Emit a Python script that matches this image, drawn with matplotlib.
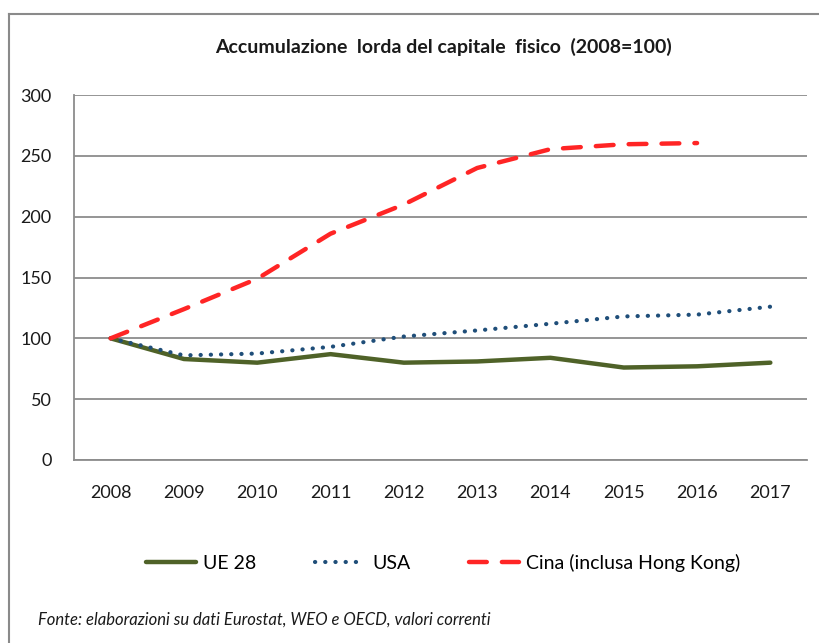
import numpy as np
import matplotlib
matplotlib.use("Agg")
import matplotlib.pyplot as plt
from matplotlib.lines import Line2D

plt.rcParams['font.family'] = ['Lato', 'DejaVu Sans']

# dati
anni = ['2008', '2009', '2010', '2011', '2012', '2013', '2014', '2015', '2016', '2017']
ue28 = [100, 83, 80, 87, 80, 81, 84, 76, 77, 80]
usa = [100, 86, 87.5, 93, 101.5, 106.5, 112, 118, 119.5, 126]
cina = [100, 124, 149, 186, 210, 240, 255.5, 259.5, 260.5, np.nan]

titolo = "Accumulazione  lorda del capitale  fisico  (2008=100)"
fonte = "Fonte: elaborazioni su dati Eurostat, WEO e OECD, valori correnti"

W, H = 819, 643
fig = plt.figure(figsize=(W / 100, H / 100), dpi=100)
ax = fig.add_axes([74 / W, 1 - 460 / H, (807 - 74) / W, (460 - 95) / H])

x = np.arange(len(anni))
ax.plot(x, ue28, color='#4f6228', lw=3.2, solid_capstyle='round', label='UE 28', zorder=3)
ax.plot(x, usa, color='#1f4e79', lw=3.0, linestyle=(0, (0.05, 2.4)),
        dash_capstyle='round', label='USA', zorder=3)
ax.plot(x, cina, color='#ff2525', lw=3.2, linestyle=(0, (4, 3.4)),
        dash_capstyle='round', label='Cina (inclusa Hong Kong)', zorder=3)

ax.set_xlim(-0.5, len(anni) - 0.5)
ax.set_ylim(0, 300)
ax.set_yticks(range(0, 301, 50))
ax.set_xticks(x)
ax.set_xticklabels(anni)
ax.tick_params(length=0, labelsize=13, colors='#1a1a1a')
ax.tick_params(axis='y', pad=16)
ax.tick_params(axis='x', pad=18)

ax.grid(axis='y', color='#8c8c8c', lw=1.3)
ax.set_axisbelow(True)
for s in ['top', 'right']:
    ax.spines[s].set_visible(False)
for s in ['left', 'bottom']:
    ax.spines[s].set_color('#8c8c8c')
    ax.spines[s].set_linewidth(1.3)

fig.text(443 / W, 1 - 47 / H, titolo, ha='center', va='center',
         fontsize=14, fontweight='bold', color='#1a1a1a')

fig.legend(loc='center', bbox_to_anchor=(443 / W, 1 - 563 / H), ncol=3,
           frameon=False, fontsize=14, handlelength=2.6, columnspacing=3.0,
           handletextpad=0.35)

fig.text(38 / W, 1 - 620 / H, fonte, ha='left', va='center',
         fontsize=12, style='italic', color='#1a1a1a')

# cornice esterna (solo lato alto e sinistro visibili)
fig.add_artist(Line2D([9 / W, 1], [1 - 14 / H, 1 - 14 / H], transform=fig.transFigure,
                      color='#8a8a8a', lw=1.5))
fig.add_artist(Line2D([9 / W, 9 / W], [1 - 14 / H, 0], transform=fig.transFigure,
                      color='#8a8a8a', lw=1.5))

fig.savefig('out.png', dpi=100)
